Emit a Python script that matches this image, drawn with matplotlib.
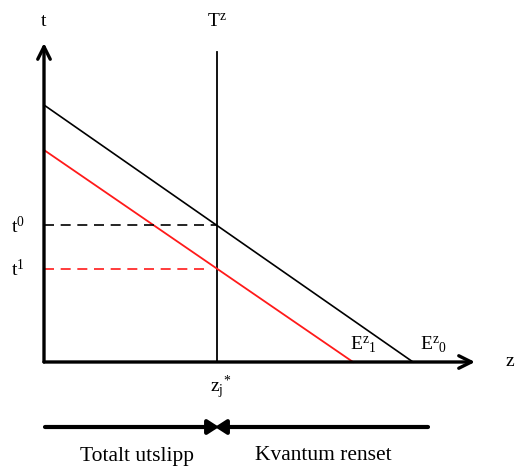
import matplotlib
matplotlib.use("Agg")
import matplotlib.pyplot as plt

plt.rcParams['font.family'] = ['Liberation Serif', 'DejaVu Serif']
plt.rcParams['mathtext.fontset'] = 'custom'
plt.rcParams['mathtext.rm'] = 'Liberation Serif'
plt.rcParams['mathtext.it'] = 'Liberation Serif'
plt.rcParams['mathtext.bf'] = 'Liberation Serif:bold'

# Model values (abatement diagram)
z_max = 431          # end of z axis
t_max = 319          # end of t axis
z_star = 173         # emission level set by the quota T^z
E0_intercept_t = 257 # price-axis intercept of the original curve E^z_0
E0_intercept_z = 369 # quantity-axis intercept of E^z_0
E1_intercept_t = 212 # price-axis intercept of the shifted curve E^z_1
E1_intercept_z = 309 # quantity-axis intercept of E^z_1
Tz_top = 310         # top of the quota line
bar_start, bar_end = 1, 384   # extent of the bottom split bar

def level_at(t0, z0, z):
    return t0 * (1 - z / z0)

t0_level = level_at(E0_intercept_t, E0_intercept_z, z_star)
t1_level = level_at(E1_intercept_t, E1_intercept_z, z_star)

fig = plt.figure(figsize=(5.15, 4.68), dpi=100)
ax = fig.add_axes([0, 0, 1, 1])
ax.set_xlim(-44, 471)
ax.set_ylim(-106, 362)
ax.axis('off')

# Axes with arrow heads
axis_arrow = dict(arrowstyle='->,head_length=0.9,head_width=0.45', lw=2.4,
                  color='black', shrinkA=0, shrinkB=0)
ax.annotate('', xy=(0, t_max), xytext=(0, 0), arrowprops=axis_arrow)
ax.annotate('', xy=(z_max, 0), xytext=(0, 0), arrowprops=axis_arrow)

# Quota line T^z
ax.plot([z_star, z_star], [0, Tz_top], color='black', lw=1.3)

# Curves E^z_0 and E^z_1
ax.plot([0, E0_intercept_z], [E0_intercept_t, 0], color='black', lw=1.2)
ax.plot([0, E1_intercept_z], [E1_intercept_t, 0], color='#ff1a1a', lw=1.3)

# Price levels
ax.plot([0, z_star], [t0_level, t0_level], color='black', lw=1.2,
        dashes=(6, 4))
ax.plot([0, z_star - 10], [t1_level, t1_level], color='#ff1a1a', lw=1.2,
        dashes=(6, 4))

# Bottom arrows: total emissions vs. abated quantity, meeting at z_j*
bar_y = -65
bottom_arrow = dict(arrowstyle='-|>,head_length=0.65,head_width=0.42', lw=3,
                    color='black', shrinkA=0, shrinkB=0)
ax.annotate('', xy=(z_star + 2, bar_y), xytext=(bar_start, bar_y), arrowprops=bottom_arrow)
ax.annotate('', xy=(z_star - 2, bar_y), xytext=(bar_end, bar_y), arrowprops=bottom_arrow)

fs = 14
ax.text(0, 340, 't', ha='center', va='center', fontsize=fs)
ax.text(z_star, 340, r'$\mathrm{T}^{\mathrm{z}}$', ha='center', va='center', fontsize=fs)
ax.text(466, 0, 'z', ha='center', va='center', fontsize=fs)
ax.text(-26, t0_level - 1, r'$\mathrm{t}^{0}$', ha='center', va='center', fontsize=fs)
ax.text(-26, t1_level - 1, r'$\mathrm{t}^{1}$', ha='center', va='center', fontsize=fs)
ax.text(z_star + 4, -25, r'$\mathrm{z}_{\mathrm{j}}{}^{*}$', ha='center', va='center', fontsize=fs)
ax.text(319, 17, r'$\mathrm{E}^{\mathrm{z}}{}_{1}$', ha='center', va='center', fontsize=fs)
ax.text(389, 17, r'$\mathrm{E}^{\mathrm{z}}{}_{0}$', ha='center', va='center', fontsize=fs)
ax.text(93, -94, 'Totalt utslipp', ha='center', va='center', fontsize=15.5)
ax.text(279, -94, 'Kvantum renset', ha='center', va='center', fontsize=15.5)

fig.savefig('out.png', dpi=100)
